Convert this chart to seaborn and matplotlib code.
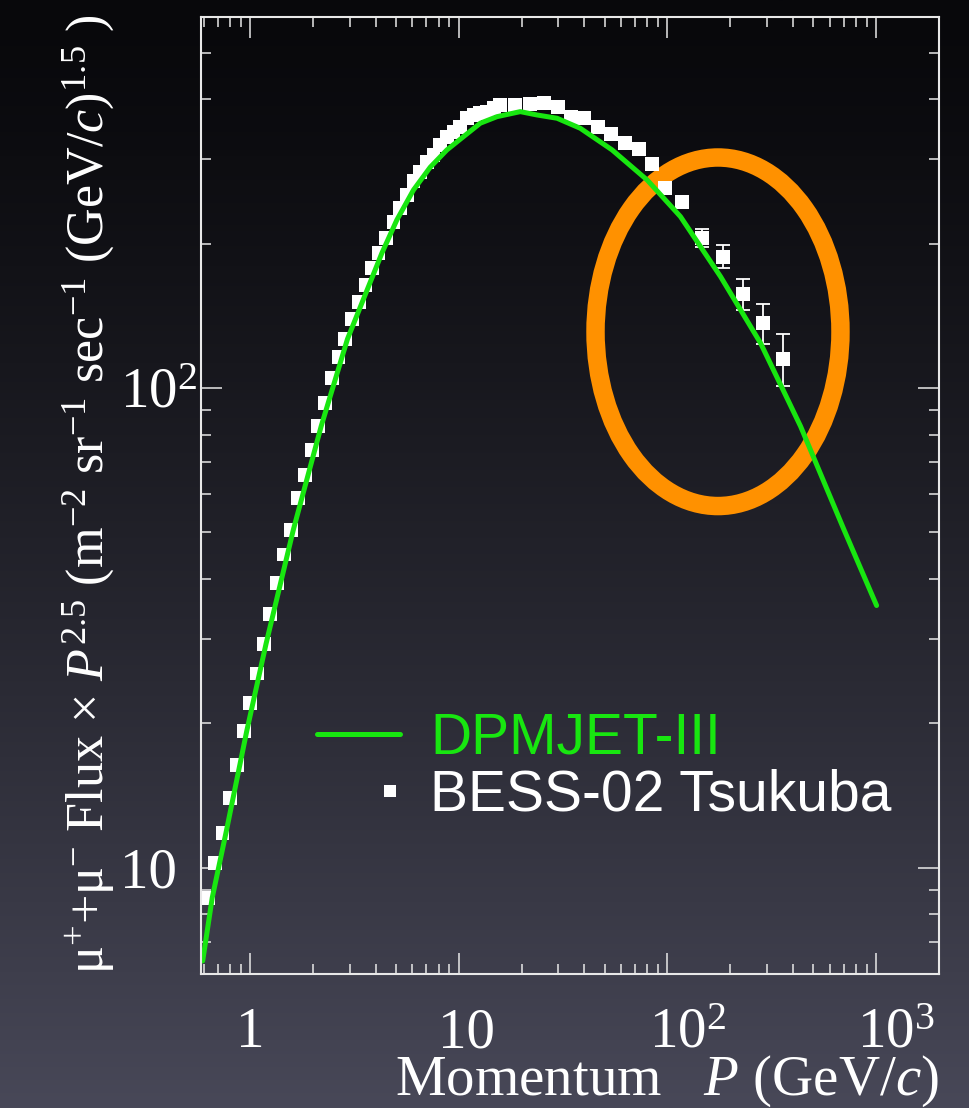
import numpy as np
import matplotlib
matplotlib.use("Agg")
import matplotlib.pyplot as plt
import matplotlib.transforms as mtransforms
from matplotlib.patches import Ellipse
from matplotlib.lines import Line2D
from matplotlib.legend_handler import HandlerLine2DCompound
from matplotlib.ticker import FixedLocator, FixedFormatter, LogLocator, NullFormatter
import seaborn as sns

# ---------------- data ----------------
# BESS-02 Tsukuba muon flux x P^2.5
bess_p = [0.631, 0.679, 0.738, 0.802, 0.866, 0.933, 1.003, 1.080, 1.163, 1.251,
          1.352, 1.460, 1.573, 1.694, 1.830, 1.977, 2.126, 2.290, 2.465, 2.652,
          2.856, 3.085, 3.321, 3.573, 3.835, 4.124, 4.467, 4.868, 5.242, 5.644,
          6.071, 6.537, 7.04, 7.57, 8.153, 8.777, 9.443, 10.17, 10.95, 11.78,
          12.68, 13.66, 14.70, 15.81, 18.66, 22.03, 25.71, 29.78, 34.52, 39.99,
          46.32, 53.87, 62.40, 72.86, 84.45, 97.8, 117.6, 146.7, 185.0, 229.7,
          286.5, 357.3]
bess_flux = [8.66, 10.24, 11.83, 13.99, 16.34, 19.26, 22.07, 25.40, 29.29, 33.86,
             39.25, 44.96, 50.68, 59.0, 65.98, 74.4, 83.2, 93.1, 104.9, 116.0,
             126.5, 139.2, 151.1, 164.0, 178.0, 191.1, 205.2, 222.4, 237.1, 252.7,
             270.3, 282.7, 296.6, 306.2, 321.3, 334.4, 342.5, 350.8, 365.2, 371.0,
             374.1, 377.0, 383.0, 389.3, 388.8, 391.2, 392.5, 386.1, 368.0, 365.2,
             350.3, 338.8, 324.9, 314.8, 293.4, 261.0, 244.1, 205.4, 188.0, 157.2,
             136.6, 115.1]
# error bars of the highest-momentum points
err_p = [146.7, 185.0, 229.7, 286.5, 357.3]
err_flux = [205.4, 188.0, 157.2, 136.6, 115.1]
err_low = [196.7, 177.8, 145.6, 123.7, 100.8]
err_high = [214.7, 198.9, 168.7, 149.6, 129.6]

# DPMJET-III prediction
model_p = [0.593, 0.659, 0.767, 0.964, 1.193, 1.613, 2.191, 2.929, 4.282, 5.053,
           6.071, 7.30, 8.777, 10.54, 12.68, 15.25, 19.72, 23.71, 29.58, 38.25,
           54.3, 79.9, 115.4, 179.6, 279.3, 434.5, 701.0, 1005.0]
model_flux = [6.39, 8.66, 11.83, 19.26, 29.29, 50.68, 83.2, 126.5, 191.1, 224.2,
              258.9, 288.7, 313.7, 334.4, 356.6, 368.0, 377.0, 371.0, 365.2, 348.0,
              313.7, 271.6, 227.8, 170.8, 124.1, 83.2, 50.68, 35.2]

x_ticks = [1, 10, 100, 1000]
x_ticklabels = ["1", "10", "$10^{2}$", "$10^{3}$"]
y_ticks = [10, 100]
y_ticklabels = ["10", "$10^{2}$"]
legend_labels = ["DPMJET-III", "BESS-02 Tsukuba"]

GREEN = "#18e610"
ORANGE = "#ff9100"
AXCOL = "#e8e8e8"

# ---------------- style ----------------
sns.set_theme(style="ticks")
plt.rcParams.update({
    "font.family": ["Liberation Serif", "DejaVu Serif"],
    "mathtext.fontset": "custom",
    "mathtext.rm": "Liberation Serif",
    "mathtext.it": "Liberation Serif:italic",
    "mathtext.bf": "Liberation Serif:bold",
    "axes.unicode_minus": True,
})

fig = plt.figure(figsize=(9.69, 11.08), dpi=100)

# dark vertical gradient background
bg = fig.add_axes([0, 0, 1, 1], zorder=0)
t = np.linspace(0, 1, 512)[:, None] ** 1.3
top = np.array([8, 8, 11]) / 255
bot = np.array([72, 72, 88]) / 255
img = top[None, None, :] + (bot - top)[None, None, :] * t[..., None]
bg.imshow(img, aspect="auto", extent=[0, 1, 0, 1], origin="upper")
bg.set_axis_off()

ax = fig.add_axes([0.2071, 0.1209, 0.7619, 0.8635], zorder=1)
ax.patch.set_alpha(0)

# highlight ring (annotation)
ring = Ellipse((0.7007, 0.6713), 0.3318, 0.3643, transform=ax.transAxes,
               fill=False, edgecolor=ORANGE, linewidth=13.3, zorder=1)
ax.add_patch(ring)

ax.errorbar(err_p, err_flux,
            yerr=[np.array(err_flux) - np.array(err_low),
                  np.array(err_high) - np.array(err_flux)],
            fmt="none", ecolor="white", elinewidth=1.3, capsize=4.7,
            capthick=1.3, zorder=2)
sns.scatterplot(x=bess_p, y=bess_flux, ax=ax, marker="s", s=100, color="white",
                edgecolor="none", linewidth=0, legend=False, zorder=3)
sns.lineplot(x=model_p, y=model_flux, ax=ax, color=GREEN, linewidth=3.6,
             estimator=None, sort=False, legend=False, zorder=4)

ax.set_xscale("log")
ax.set_yscale("log")
ax.set_xlim(0.58, 2000)
ax.set_ylim(6.0, 593)

ax.xaxis.set_major_locator(FixedLocator(x_ticks))
ax.xaxis.set_major_formatter(FixedFormatter(x_ticklabels))
ax.xaxis.set_minor_locator(LogLocator(base=10, subs=np.arange(2, 10), numticks=30))
ax.xaxis.set_minor_formatter(NullFormatter())
ax.yaxis.set_major_locator(FixedLocator(y_ticks))
ax.yaxis.set_major_formatter(FixedFormatter(y_ticklabels))
ax.yaxis.set_minor_locator(LogLocator(base=10, subs=np.arange(2, 10), numticks=30))
ax.yaxis.set_minor_formatter(NullFormatter())

for s in ax.spines.values():
    s.set_color(AXCOL)
    s.set_linewidth(1.5)
    s.set_zorder(5)

ax.tick_params(which="both", direction="in", top=True, right=True,
               color=AXCOL, width=1.1, labelcolor="white", labelsize=41)
ax.tick_params(which="major", length=15)
ax.tick_params(which="minor", length=7.5)
ax.tick_params(axis="x", which="major", pad=52.6)
ax.tick_params(axis="y", which="major", pad=58.1)

# tick label alignment tweaks (ROOT-like placement)
x_off_px = [0, 8, 20, 20]
for lbl, dx in zip(ax.get_xticklabels(), x_off_px):
    lbl.set_va("baseline")
    lbl.set_transform(lbl.get_transform() +
                      mtransforms.ScaledTranslation(dx / 100, 0, fig.dpi_scale_trans))
for lbl in ax.get_yticklabels():
    lbl.set_ha("left")
    lbl.set_va("baseline")
    lbl.set_transform(lbl.get_transform() +
                      mtransforms.ScaledTranslation(0, -19.5 / 100, fig.dpi_scale_trans))

# axis labels
ax.set_xlabel("Momentum   $P$ (GeV/$c$)", fontsize=41, color="white")
ax.xaxis.label.set_ha("right")
ax.xaxis.label.set_va("baseline")
ax.xaxis.set_label_coords(1.0, -0.1262)

ax.set_ylabel("μ$^{+}$+μ$^{-}$ Flux × $P^{2.5}$ (m$^{-2}$ sr$^{-1}$ sec$^{-1}$ (GeV/$c$)$^{1.5}$ )",
              fontsize=37.5, color="white")
ax.yaxis.label.set_rotation_mode("anchor")
ax.yaxis.label.set_ha("center")
ax.yaxis.label.set_va("baseline")
ax.yaxis.set_label_coords(-0.1323, 0.5017)

# legend
class RightMarkerHandler(HandlerLine2DCompound):
    def get_xdata(self, legend, xdescent, ydescent, width, height, fontsize):
        xdata, _ = super().get_xdata(legend, xdescent, ydescent, width, height, fontsize)
        return xdata, [-xdescent + 0.88 * width]

h_model = Line2D([], [], color=GREEN, linewidth=3.6)
h_data = Line2D([], [], marker="s", linestyle="none", color="white",
                markersize=8.5, markeredgewidth=0)
leg = ax.legend([h_model, h_data], legend_labels, loc="upper left",
                bbox_to_anchor=(0.1575, 0.2739), bbox_transform=ax.transAxes,
                frameon=False, prop={"family": "Liberation Sans", "size": 41},
                handlelength=1.46, handletextpad=0.53, labelspacing=0.05,
                borderpad=0, borderaxespad=0,
                handler_map={h_data: RightMarkerHandler(numpoints=1)})
leg.get_texts()[0].set_color(GREEN)
leg.get_texts()[1].set_color("white")
leg.set_zorder(6)

fig.savefig("out.png", dpi=100)
